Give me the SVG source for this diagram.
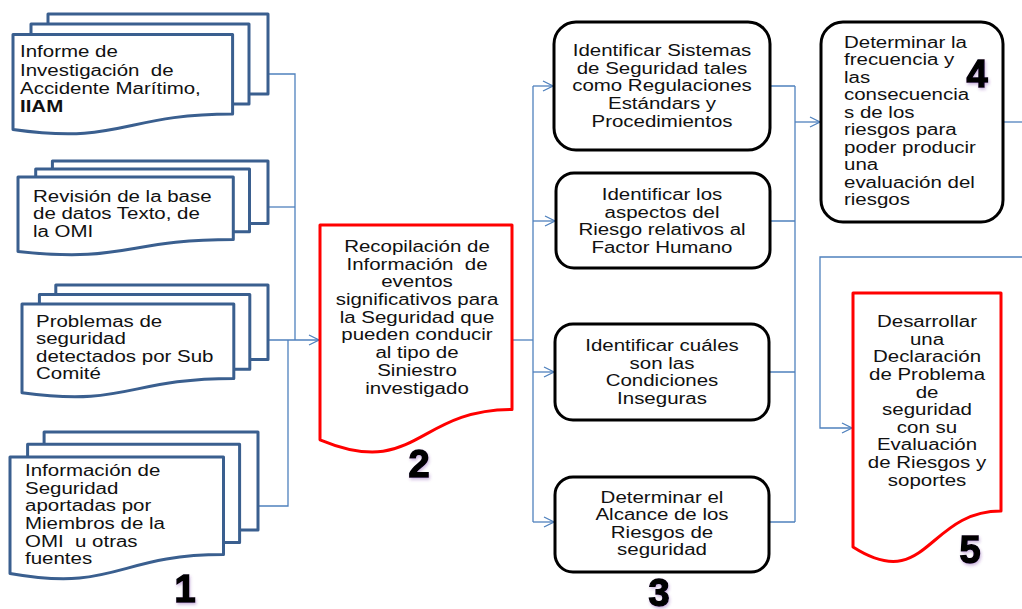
<svg xmlns="http://www.w3.org/2000/svg" width="1022" height="609" viewBox="0 0 1022 609">
  <style>
    .doc { fill: #ffffff; stroke: #3A5F8F; stroke-width: 3; stroke-linejoin: round; }
    .red { fill: #ffffff; stroke: #FF0000; stroke-width: 3; stroke-linejoin: round; }
    .box { fill: #ffffff; stroke: #000000; stroke-width: 3; }
    .lbl { font-family: "Liberation Sans", Arial, sans-serif; font-size: 16px; fill: #111111; }
    .mid { text-anchor: middle; }
    .num { font-family: "Liberation Sans", Arial, sans-serif; font-size: 38px; font-weight: bold; fill: #000000; stroke: #000000; stroke-width: 1.4; text-anchor: middle; filter: url(#glow); }
    .wire { fill: none; stroke: #4F81BD; stroke-width: 1.3; }
    .arrow { marker-end: url(#open); }
  </style>
  <defs>
    <marker id="open" markerUnits="userSpaceOnUse" markerWidth="12" markerHeight="12" viewBox="0 0 12 12" refX="11" refY="6" orient="auto">
      <path d="M1,1 L11,6 L1,11" fill="none" stroke="#4F81BD" stroke-width="1.3"/>
    </marker>
    <filter id="glow" x="-30%" y="-30%" width="160%" height="160%">
      <feDropShadow dx="1" dy="2" stdDeviation="1.5" flood-color="#7030A0" flood-opacity="0.35"/>
    </filter>
  </defs>
  <rect width="1022" height="609" fill="#ffffff"/>

  <!-- connectors -->
  <g id="connectors">
    <path class="wire" d="M268,74 H295 V340"/>
    <path class="wire" d="M268,207 H295"/>
    <path class="wire" d="M258,506 H288 V340"/>
    <path class="wire arrow" d="M268,340 H319"/>
    <path class="wire" d="M512,340 H533"/>
    <path class="wire" d="M533,86 V522"/>
    <path class="wire arrow" d="M533,86 H553"/>
    <path class="wire arrow" d="M533,221 H555"/>
    <path class="wire arrow" d="M533,372 H554"/>
    <path class="wire arrow" d="M533,522 H554"/>
    <path class="wire" d="M770,86 H795 M770,221 H795 M769,372 H795 M769,522 H795"/>
    <path class="wire" d="M795,86 V522"/>
    <path class="wire arrow" d="M795,122 H820"/>
    <path class="wire" d="M1003,122 H1022"/>
    <path class="wire arrow" d="M1022,257 H820 V428 H852"/>
  </g>

  <!-- stacked source documents -->
  <g id="src-informe">
    <rect class="doc" x="48" y="14" width="220" height="80"/>
    <rect class="doc" x="31" y="24" width="218" height="80"/>
    <path class="doc" d="M13,34.4 H232.6 V114 C122.8,114 122.8,144.8 13,129.4 Z"/>
    <g transform="translate(20,0) scale(1.28,1)">
      <text class="lbl" xml:space="preserve"><tspan x="0" y="57.5">Informe de</tspan><tspan x="0" y="75.7">Investigación  de</tspan><tspan x="0" y="93.9">Accidente Marítimo,</tspan><tspan x="0" y="112" font-weight="bold">IIAM</tspan></text>
    </g>
  </g>

  <g id="src-revision">
    <rect class="doc" x="52.4" y="161" width="215.6" height="62.6"/>
    <rect class="doc" x="35.7" y="168.9" width="213.8" height="62.8"/>
    <path class="doc" d="M18,177 H233.3 V239.4 C125.6,239.4 125.6,263.4 18,251.4 Z"/>
    <g transform="translate(33,0) scale(1.28,1)">
      <text class="lbl"><tspan x="0" y="201.7">Revisión de la base</tspan><tspan x="0" y="219.2">de datos Texto, de</tspan><tspan x="0" y="236.7">la OMI</tspan></text>
    </g>
  </g>

  <g id="src-problemas">
    <rect class="doc" x="55.8" y="285" width="212.2" height="74.6"/>
    <rect class="doc" x="39.4" y="294.4" width="210.4" height="74.9"/>
    <path class="doc" d="M22,304 H233.8 V378.4 C127.9,378.4 127.9,407 22,392.7 Z"/>
    <g transform="translate(36,0) scale(1.28,1)">
      <text class="lbl"><tspan x="0" y="326.7">Problemas de</tspan><tspan x="0" y="344.3">seguridad</tspan><tspan x="0" y="361.9">detectados por Sub</tspan><tspan x="0" y="379.5">Comité</tspan></text>
    </g>
  </g>

  <g id="src-informacion">
    <rect class="doc" x="44.1" y="432" width="213.9" height="97.9"/>
    <rect class="doc" x="27.6" y="444.3" width="212" height="98.3"/>
    <path class="doc" d="M10,457 H223.5 V554.6 C116.8,554.6 116.8,592.2 10,573.4 Z"/>
    <g transform="translate(25,0) scale(1.28,1)">
      <text class="lbl" xml:space="preserve"><tspan x="0" y="476">Información de</tspan><tspan x="0" y="493.7">Seguridad</tspan><tspan x="0" y="511.4">aportadas por</tspan><tspan x="0" y="529.1">Miembros de la</tspan><tspan x="0" y="546.8">OMI  u otras</tspan><tspan x="0" y="564.5">fuentes</tspan></text>
    </g>
  </g>
  <text class="num" x="185" y="602">1</text>

  <!-- compiled information document -->
  <g id="recopilacion">
    <path class="red" d="M320,225 H512 V409.5 C416,409.5 416,479.7 320,439.8 Z"/>
    <g transform="translate(417,0) scale(1.28,1)">
      <text class="lbl mid"><tspan x="0" y="252">Recopilación de</tspan><tspan x="0" y="269.7" xml:space="preserve">Información  de</tspan><tspan x="0" y="287.4">eventos</tspan><tspan x="0" y="305.1">significativos para</tspan><tspan x="0" y="322.8">la Seguridad que</tspan><tspan x="0" y="340.5">pueden conducir</tspan><tspan x="0" y="358.2">al tipo de</tspan><tspan x="0" y="375.9">Siniestro</tspan><tspan x="0" y="393.6">investigado</tspan></text>
    </g>
    <text class="num" x="419" y="477">2</text>
  </g>

  <!-- analysis steps -->
  <g id="sistemas">
    <rect class="box" x="554" y="22" width="216" height="128" rx="22"/>
    <g transform="translate(662,0) scale(1.28,1)">
      <text class="lbl mid"><tspan x="0" y="56">Identificar Sistemas</tspan><tspan x="0" y="73.7">de Seguridad tales</tspan><tspan x="0" y="91.4">como Regulaciones</tspan><tspan x="0" y="109.1">Estándars y</tspan><tspan x="0" y="126.8">Procedimientos</tspan></text>
    </g>
  </g>

  <g id="factor-humano">
    <rect class="box" x="556" y="173" width="214" height="95" rx="18"/>
    <g transform="translate(662,0) scale(1.28,1)">
      <text class="lbl mid"><tspan x="0" y="200">Identificar los</tspan><tspan x="0" y="217.6">aspectos del</tspan><tspan x="0" y="235.2">Riesgo relativos al</tspan><tspan x="0" y="252.8">Factor Humano</tspan></text>
    </g>
  </g>

  <g id="condiciones">
    <rect class="box" x="555" y="324" width="214" height="96" rx="18"/>
    <g transform="translate(662,0) scale(1.28,1)">
      <text class="lbl mid"><tspan x="0" y="351">Identificar cuáles</tspan><tspan x="0" y="368.6">son las</tspan><tspan x="0" y="386.2">Condiciones</tspan><tspan x="0" y="403.8">Inseguras</tspan></text>
    </g>
  </g>

  <g id="alcance">
    <rect class="box" x="555" y="477" width="214" height="95" rx="18"/>
    <g transform="translate(662,0) scale(1.28,1)">
      <text class="lbl mid"><tspan x="0" y="502.7">Determinar el</tspan><tspan x="0" y="520.3">Alcance de los</tspan><tspan x="0" y="537.9">Riesgos de</tspan><tspan x="0" y="555.5">seguridad</tspan></text>
    </g>
  </g>
  <text class="num" x="659" y="606">3</text>

  <g id="frecuencia">
    <rect class="box" x="821" y="22" width="182" height="200" rx="22"/>
    <g transform="translate(844,0) scale(1.28,1)">
      <text class="lbl"><tspan x="0" y="47.7">Determinar la</tspan><tspan x="0" y="65.2">frecuencia y</tspan><tspan x="0" y="82.7">las</tspan><tspan x="0" y="100.2">consecuencia</tspan><tspan x="0" y="117.7">s de los</tspan><tspan x="0" y="135.2">riesgos para</tspan><tspan x="0" y="152.7">poder producir</tspan><tspan x="0" y="170.2">una</tspan><tspan x="0" y="187.7">evaluación del</tspan><tspan x="0" y="205.2">riesgos</tspan></text>
    </g>
    <text class="num" x="977" y="87">4</text>
  </g>

  <g id="declaracion">
    <path class="red" d="M853,293 H1001 V511.1 C927,511.1 927,594.2 853,547 Z"/>
    <g transform="translate(927,0) scale(1.28,1)">
      <text class="lbl mid"><tspan x="0" y="327.3">Desarrollar</tspan><tspan x="0" y="344.9">una</tspan><tspan x="0" y="362.5">Declaración</tspan><tspan x="0" y="380.1">de Problema</tspan><tspan x="0" y="397.7">de</tspan><tspan x="0" y="415.3">seguridad</tspan><tspan x="0" y="432.9">con su</tspan><tspan x="0" y="450.5">Evaluación</tspan><tspan x="0" y="468.1">de Riesgos y</tspan><tspan x="0" y="485.7">soportes</tspan></text>
    </g>
    <text class="num" x="970" y="563">5</text>
  </g>
</svg>
